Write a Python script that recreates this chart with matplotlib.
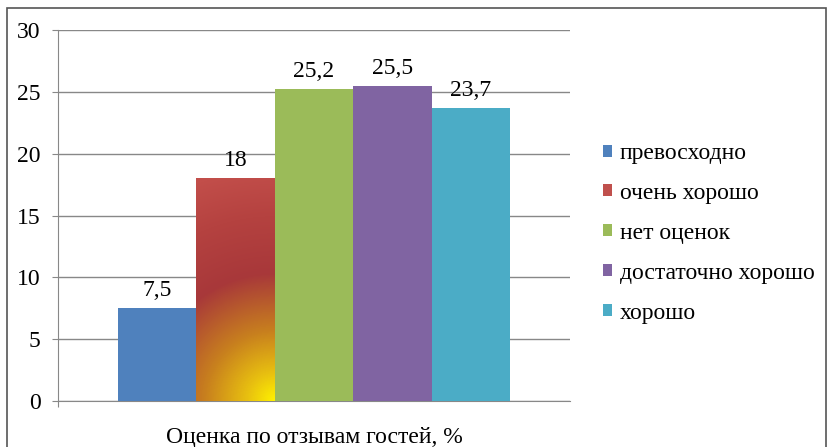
import matplotlib.pyplot as plt
import numpy as np
from matplotlib.colors import LinearSegmentedColormap
from matplotlib.patches import Rectangle

plt.rcParams['font.family'] = ['Liberation Serif', 'DejaVu Serif']

categories = ['превосходно', 'очень хорошо', 'нет оценок', 'достаточно хорошо', 'хорошо']
values = [7.5, 18, 25.2, 25.5, 23.7]
value_labels = ['7,5', '18', '25,2', '25,5', '23,7']
colors = ['#4F81BD', '#C0504D', '#9BBB59', '#8064A2', '#4BACC6']
xlabel = 'Оценка по отзывам гостей, %'
yticks = [0, 5, 10, 15, 20, 25, 30]

fig = plt.figure(figsize=(8.31, 4.47), dpi=100)
ax = fig.add_axes([58 / 831, 1 - 401 / 447, 512 / 831, 371 / 447])

width = 0.153
x = (np.arange(len(values)) - 2) * width
bars = []
for i, (xi, v, lab, c) in enumerate(zip(x, values, categories, colors)):
    b = ax.bar(xi, v, width, color=c, label=lab, zorder=3)
    bars.append(b[0])
    ax.annotate(value_labels[i], (xi, v), xytext=(0, 5), textcoords='offset points',
                ha='center', va='bottom', fontsize=17)

ax.set_xlim(-0.5, 0.5)
ax.set_ylim(0, 30)
ax.set_yticks(yticks)
ax.set_xticks([-0.5])
ax.set_xticklabels([''])
ax.tick_params(axis='both', direction='out', length=4.5, color='#888888', labelsize=17, pad=8)
ax.yaxis.grid(True, color='#888888', linewidth=1, zorder=0)
for s in ['top', 'right']:
    ax.spines[s].set_visible(False)
for s in ['left', 'bottom']:
    ax.spines[s].set_color('#888888')
ax.set_xlabel(xlabel, fontsize=17, labelpad=6)

# radial gradient on the red bar
rb = bars[1]
x0, y0 = rb.get_x(), rb.get_y()
x1, y1 = x0 + rb.get_width(), y0 + rb.get_height()
p0 = ax.transData.transform((x0, y0))
p1 = ax.transData.transform((x1, y1))
nx, ny = int(p1[0] - p0[0]), int(p1[1] - p0[1])
gx, gy = np.meshgrid(np.arange(nx), np.arange(ny))
d = np.hypot(nx - gx, gy)  # distance from bottom-right corner (origin lower)
cmap = LinearSegmentedColormap.from_list('g', [
    (0.0, '#FFF200'), (0.12, '#E8C010'), (0.3, '#C8801E'),
    (0.55, '#A8383A'), (0.8, '#B54240'), (1.0, '#C24E4A')])
img = ax.imshow(np.clip(d / 230, 0, 1), cmap=cmap, vmin=0, vmax=1, origin='lower',
                extent=(x0, x1, y0, y1), aspect='auto', zorder=4)
img.set_clip_path(rb)
ax.set_xlim(-0.5, 0.5)
ax.set_ylim(0, 30)

leg = ax.legend(loc='upper left', bbox_to_anchor=((603 - 58) / 512, (401 - 143) / 371),
                frameon=False, fontsize=17, handlelength=0.4, handleheight=0.4,
                handletextpad=0.3, labelspacing=0.8, borderaxespad=0, borderpad=0)

# outer frame
fig.patches.append(Rectangle((7 / 831, -0.1), 819 / 831, 1.1 - 8 / 447, transform=fig.transFigure,
                             fill=False, edgecolor='#555555', linewidth=1.2))

fig.savefig('out.png', dpi=100)
